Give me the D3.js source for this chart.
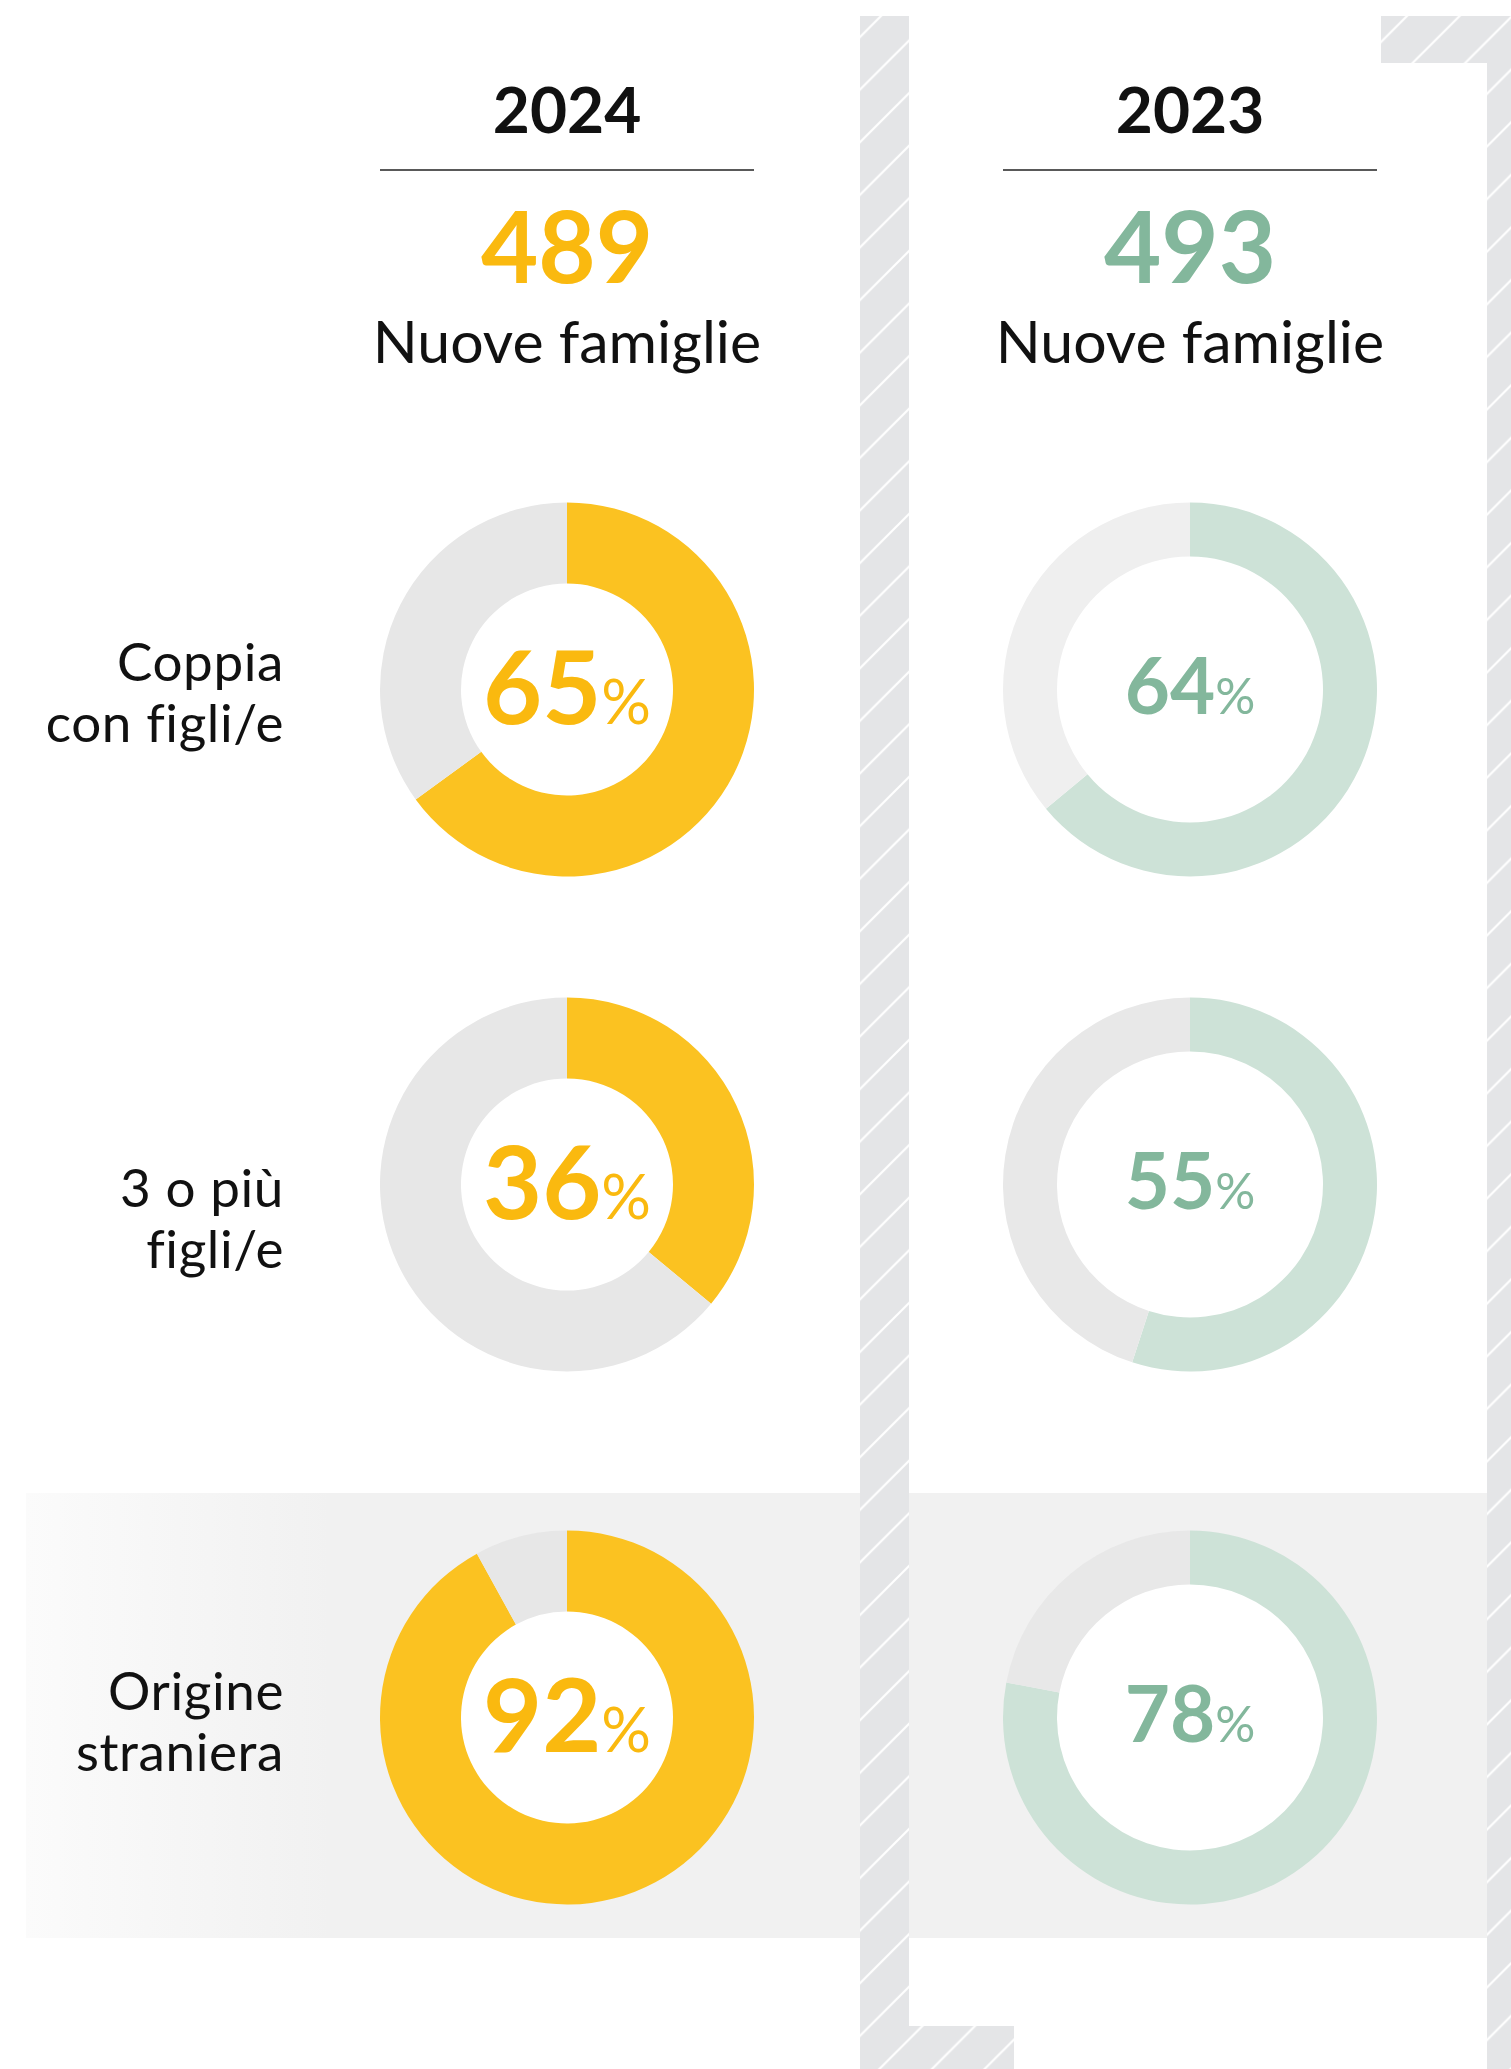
<!DOCTYPE html>
<html>
<head>
<meta charset="utf-8">
<script src="https://cdn.jsdelivr.net/npm/d3@7"></script>
<style>
  body { margin: 0; background: #fff; }
  svg { display: block; font-family: Lato, "Open Sans", sans-serif; }
</style>
</head>
<body>
<div id="chart"></div>
<script>
// data
const years = ["2024", "2023"];
const totals = [489, 493];
const totalLabel = "Nuove famiglie";
const rows = ["coppia", "tre", "origine"];
const rowLabels = [["Coppia", "con figli/e"], ["3 o più", "figli/e"], ["Origine", "straniera"]];
const share2024 = [65, 36, 92];
const share2023 = [64, 55, 78];

const W = 1511, H = 2069;
const colors = {
  "2024": { ring: "#fbc221", text: "#fab90f", rest: ["#e7e7e7", "#e7e7e7", "#e7e7e7"] },
  "2023": { ring: "#cde2d7", text: "#83b79c", rest: ["#efefef", "#e8e8e8", "#e8e8e8"] }
};

const x = d3.scalePoint().domain(years).range([567, 1190]);
const y = d3.scaleOrdinal().domain(rows).range([689.5, 1184.5, 1717.5]);
const labelY = d3.scaleOrdinal().domain(rows).range([681, 1207, 1710]);

const svg = d3.select("#chart").append("svg")
  .attr("width", W).attr("height", H);

const defs = svg.append("defs");

// hatch pattern, diagonal white lines on light grey
const p = 52.6;
const pat = defs.append("pattern")
  .attr("id", "hatch")
  .attr("patternUnits", "userSpaceOnUse")
  .attr("x", 2.8).attr("y", 0)
  .attr("width", p).attr("height", p);
pat.append("rect").attr("width", p).attr("height", p).attr("fill", "#e4e5e7");
pat.append("path")
  .attr("d", `M0,${p} L${p},0 M-2,2 L2,-2 M${p - 2},${p + 2} L${p + 2},${p - 2}`)
  .attr("stroke", "#fff").attr("stroke-width", 2.2);

const grad = defs.append("linearGradient")
  .attr("id", "bandGrad")
  .attr("gradientUnits", "userSpaceOnUse")
  .attr("x1", 26).attr("x2", 330).attr("y1", 0).attr("y2", 0);
grad.append("stop").attr("offset", 0).attr("stop-color", "#fbfbfb");
grad.append("stop").attr("offset", 1).attr("stop-color", "#f1f1f1");

// grey band behind the last row
svg.append("rect")
  .attr("x", 26).attr("y", 1493)
  .attr("width", 1487 - 26).attr("height", 1938 - 1493)
  .attr("fill", "url(#bandGrad)");

// hatched frame pieces
const hatchRects = [
  [860, 16, 49, H - 16],
  [1381, 16, W - 1381, 47],
  [1487, 16, W - 1487, H - 16],
  [860, 2026, 1014 - 860, H - 2026]
];
svg.selectAll("rect.hatch")
  .data(hatchRects)
  .join("rect")
  .attr("class", "hatch")
  .attr("x", d => d[0]).attr("y", d => d[1])
  .attr("width", d => d[2]).attr("height", d => d[3])
  .attr("fill", "url(#hatch)");

// column headers
const head = svg.selectAll("g.head")
  .data(years)
  .join("g")
  .attr("class", "head")
  .attr("transform", d => `translate(${x(d)},0)`);

head.append("text")
  .attr("y", 133)
  .attr("text-anchor", "middle")
  .attr("font-size", 64).attr("font-weight", 700)
  .attr("fill", "#111")
  .text(d => d);

head.append("line")
  .attr("x1", -187).attr("x2", 187)
  .attr("y1", 170).attr("y2", 170)
  .attr("stroke", "#222").attr("stroke-width", 1.4);

head.append("text")
  .attr("y", 283)
  .attr("text-anchor", "middle")
  .attr("font-size", 99).attr("font-weight", 700)
  .attr("fill", (d, i) => colors[d].text)
  .text((d, i) => totals[i]);

head.append("text")
  .attr("y", 363)
  .attr("text-anchor", "middle")
  .attr("font-size", 59).attr("font-weight", 400)
  .attr("fill", "#111")
  .text(totalLabel);

// row labels
const lab = svg.selectAll("text.rowlab")
  .data(rows)
  .join("text")
  .attr("class", "rowlab")
  .attr("text-anchor", "end")
  .attr("font-size", 53).attr("font-weight", 400)
  .attr("letter-spacing", 0.6)
  .attr("fill", "#111");
lab.selectAll("tspan")
  .data((d, i) => rowLabels[i].map(t => ({ t, row: d })))
  .join("tspan")
  .attr("x", 284)
  .attr("y", (d, i) => labelY(d.row) + i * 61)
  .text(d => d.t);

// donuts
const pie = d3.pie().sort(null).value(d => d);
const donuts = [];
years.forEach((yr, c) => {
  const vals = c === 0 ? share2024 : share2023;
  rows.forEach((r, i) => donuts.push({ year: yr, row: r, idx: i, value: vals[i] }));
});

const g = svg.selectAll("g.donut")
  .data(donuts)
  .join("g")
  .attr("class", "donut")
  .attr("transform", d => `translate(${x(d.year)},${y(d.row)})`);

g.each(function (d) {
  const inner = d.year === "2024" ? 106 : 133;
  const arc = d3.arc().innerRadius(inner).outerRadius(187);
  const cfg = colors[d.year];
  const sel = d3.select(this);
  sel.append("circle").attr("r", inner + 1).attr("fill", "#fff");
  sel.selectAll("path")
    .data(pie([d.value, 100 - d.value]))
    .join("path")
    .attr("d", arc)
    .attr("fill", (s, k) => k === 0 ? cfg.ring : cfg.rest[d.idx]);

  const big = d.year === "2024";
  const t = sel.append("text")
    .attr("text-anchor", "middle")
    .attr("y", big ? 34 : 24)
    .attr("fill", cfg.text);
  t.append("tspan")
    .attr("font-size", big ? 102 : 78).attr("font-weight", 700)
    .text(d.value);
  t.append("tspan")
    .attr("font-size", big ? 62 : 50).attr("font-weight", 400)
    .text("%");
});
</script>
</body>
</html>
